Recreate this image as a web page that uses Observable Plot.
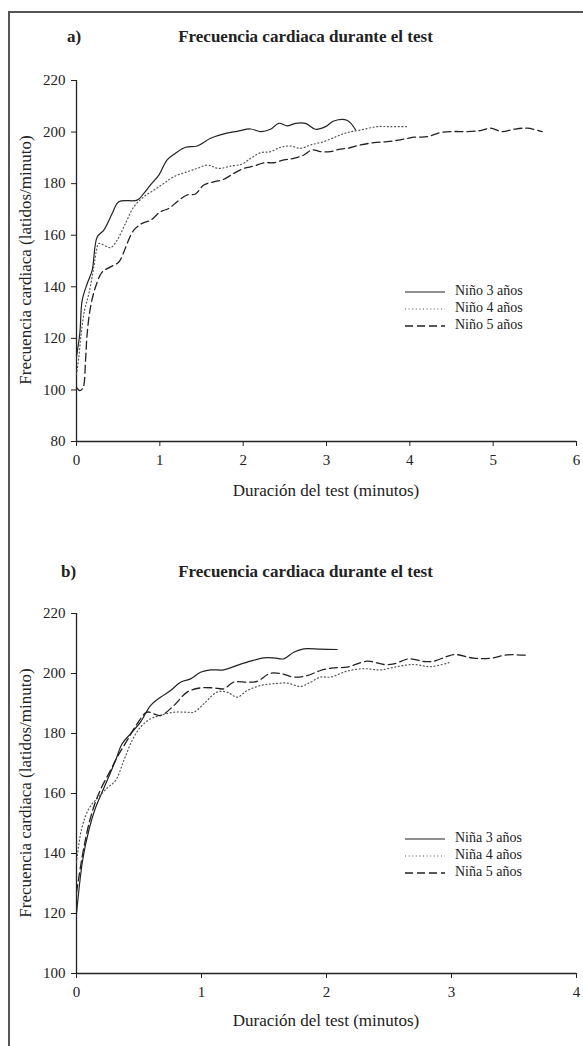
<!DOCTYPE html>
<html>
<head>
<meta charset="utf-8">
<script src="https://cdn.jsdelivr.net/npm/d3@7"></script>
<script src="https://cdn.jsdelivr.net/npm/@observablehq/plot@0.6"></script>
<style>
  body { margin:0; background:#fff; font-family:"Liberation Serif","DejaVu Serif",serif; color:#222; }
  #page { position:relative; width:583px; height:1046px; overflow:hidden; }
  #frame { position:absolute; left:8px; top:11px; width:700px; height:1200px; border:2px solid #555; box-sizing:border-box; }
  .abs { position:absolute; white-space:nowrap; }
  .title { font-weight:bold; font-size:17px; }
  .lbl { font-size:17px; }
  .leg { font-size:14px; }
</style>
</head>
<body>
<div id="page">
  <div id="frame"></div>
</div>
<script>
// ---- Panel a: niños ----
const panelATitle = "Frecuencia cardiaca durante el test";
const panelALetter = "a)";
const ninoLabels = ["Niño 3 años", "Niño 4 años", "Niño 5 años"];
const xTicksA = [0, 1, 2, 3, 4, 5, 6];
const yTicksA = [80, 100, 120, 140, 160, 180, 200, 220];

const nino3 = [[0,113],[0.04,122],[0.068,134.7],[0.128,141.2],[0.188,146.4],[0.248,159.3],[0.328,162],[0.428,168.4],[0.508,173],[0.728,173.6],[0.808,176.2],[0.888,179.5],[0.988,183.3],[1.088,189.2],[1.188,191.8],[1.308,194.1],[1.448,194.6],[1.608,197.6],[1.768,199.3],[1.928,200.3],[2.088,201.2],[2.208,200.2],[2.328,201.1],[2.428,203.4],[2.528,202.4],[2.628,203.4],[2.748,203.4],[2.868,201.1],[2.988,202.1],[3.088,204.3],[3.25,204.5],[3.35,200.8]];
const nino4 = [[0,106],[0.028,112.7],[0.056,121.8],[0.096,130.8],[0.148,137.3],[0.208,147.7],[0.24,154.2],[0.268,156.8],[0.408,155.2],[0.488,158.1],[0.588,164.6],[0.688,171],[0.808,174.9],[0.928,177.5],[1.048,180.1],[1.168,182.7],[1.328,184.6],[1.448,185.9],[1.568,187.2],[1.708,185.9],[1.848,186.8],[1.988,187.6],[2.088,189.8],[2.208,192],[2.328,192.4],[2.448,194.1],[2.568,194.6],[2.688,193.7],[2.808,195],[2.968,196.3],[3.128,198.4],[3.248,199.8],[3.408,200.8],[3.608,202.1],[3.768,202.1],[3.988,202.1]];
const nino5 = [[0,101],[0.04,99.7],[0.08,101],[0.108,111.4],[0.128,121.8],[0.168,132.1],[0.228,139.9],[0.308,145.7],[0.408,147.7],[0.508,149.6],[0.568,153.5],[0.608,156.8],[0.688,162],[0.788,164.6],[0.888,165.8],[1.008,169.1],[1.108,170.4],[1.208,173],[1.328,175.6],[1.428,176],[1.528,179.5],[1.648,180.7],[1.768,181.7],[1.888,184],[2.008,185.9],[2.128,186.8],[2.248,188.1],[2.368,188.1],[2.488,189.2],[2.608,189.8],[2.728,191.1],[2.828,193.1],[2.928,192.4],[3.048,192.4],[3.148,193.3],[3.248,193.7],[3.408,195],[3.568,195.9],[3.728,196.3],[3.888,197],[4.048,198],[4.208,198.2],[4.368,199.8],[4.528,200.2],[4.688,200.2],[4.848,200.6],[4.968,201.5],[5.108,200.2],[5.248,201.1],[5.408,201.5],[5.588,200.2]];

// ---- Panel b: niñas ----
const panelBTitle = "Frecuencia cardiaca durante el test";
const panelBLetter = "b)";
const ninaLabels = ["Niña 3 años", "Niña 4 años", "Niña 5 años"];
const xTicksB = [0, 1, 2, 3, 4];
const yTicksB = [100, 120, 140, 160, 180, 200, 220];

const nina3 = [[0,120],[0.05,138],[0.1,148],[0.15,155],[0.2,160],[0.245,164.3],[0.312,171],[0.365,176.6],[0.432,179.9],[0.512,183.8],[0.592,189.3],[0.672,192.1],[0.752,194.3],[0.832,197.1],[0.912,198.2],[0.992,200.4],[1.072,201.2],[1.178,201.2],[1.285,202.7],[1.392,204.1],[1.498,205.2],[1.578,205.2],[1.658,204.9],[1.738,207.1],[1.818,208.2],[1.952,208.1],[2.085,208]];
const nina4 = [[0,137],[0.04,148],[0.1,155],[0.18,159],[0.25,162],[0.312,164.3],[0.379,171],[0.445,177.7],[0.512,182.1],[0.592,184.9],[0.672,186],[0.779,187.1],[0.885,187.1],[0.939,187.1],[1.019,189.9],[1.125,193.8],[1.205,193.8],[1.285,192.1],[1.365,194.3],[1.472,196],[1.578,196.6],[1.685,196.8],[1.792,195.7],[1.872,197.1],[1.952,198.8],[2.032,198.8],[2.165,200.8],[2.299,201.6],[2.432,201.2],[2.565,202.3],[2.699,203],[2.832,202.3],[2.979,203.6]];
const nina5 = [[0,127],[0.05,140],[0.1,150],[0.15,157],[0.2,162],[0.272,167.7],[0.325,172.1],[0.405,177.7],[0.485,183.2],[0.565,187.1],[0.672,186],[0.779,189.3],[0.885,193.8],[0.992,195.2],[1.099,195.2],[1.178,194.9],[1.258,197.1],[1.365,197.1],[1.445,197.4],[1.552,200.1],[1.645,199.9],[1.738,198.8],[1.845,199.3],[1.952,201],[2.059,201.9],[2.165,202.1],[2.325,204.1],[2.459,203],[2.539,203.2],[2.659,204.9],[2.779,204],[2.859,204.1],[2.965,205.7],[3.032,206.3],[3.179,205.1],[3.312,205.1],[3.445,206.2],[3.592,206.1]];

const xLabel = "Duración del test (minutos)";
const yLabel = "Frecuencia cardiaca (latidos/minuto)";

const styles = [
  {stroke:"#222", strokeWidth:1.2, dash:null},
  {stroke:"#555", strokeWidth:1.2, dash:"1,2.6"},
  {stroke:"#222", strokeWidth:1.3, dash:"8,4"}
];

const page = document.getElementById("page");
function addText(txt, cls, left, top, extra) {
  const d = document.createElement("div");
  d.className = "abs " + cls;
  d.textContent = txt;
  d.style.left = left + "px";
  d.style.top = top + "px";
  if (extra) Object.assign(d.style, extra);
  page.appendChild(d);
  return d;
}

function panel(cfg) {
  const series = cfg.series;
  const marks = [
    Plot.ruleX([0], {y1: cfg.yDomain[0], y2: cfg.yDomain[1], stroke:"#222", strokeWidth:1.3}),
    Plot.ruleY([cfg.yDomain[0]], {stroke:"#222", strokeWidth:1.3}),
    Plot.axisX({ticks: cfg.xTicks, tickSize:5, tickPadding:8, fontSize:15, tickFormat: d => String(d), stroke:"#222"}),
    Plot.axisY({ticks: cfg.yTicks, tickSize:5, tickPadding:6, fontSize:15, tickFormat: d => String(d), stroke:"#222"})
  ];
  series.forEach((s, i) => {
    const st = styles[i];
    marks.push(Plot.line(s, {x: d => d[0], y: d => d[1], curve:"catmull-rom", stroke: st.stroke, strokeWidth: st.strokeWidth, strokeDasharray: st.dash || undefined}));
  });
  const svg = Plot.plot({
    width: 583,
    height: cfg.height,
    marginLeft: 76,
    marginRight: 7,
    marginTop: 20,
    marginBottom: cfg.marginBottom,
    style: {fontFamily: "Liberation Serif, serif", fontSize: "15px", color:"#222", background:"transparent", overflow:"visible"},
    x: {domain: cfg.xDomain, label: null},
    y: {domain: cfg.yDomain, label: null},
    marks
  });
  const wrap = document.createElement("div");
  wrap.className = "abs";
  wrap.style.left = "0px";
  wrap.style.top = cfg.top + "px";
  wrap.appendChild(svg);
  page.appendChild(wrap);

  // titles
  addText(cfg.letter, "title", cfg.letterX, cfg.titleY);
  addText(cfg.title, "title", 0, cfg.titleY, {width:"583px", left:"0px", textAlign:"center", transform:"translateX(14px)"});
  // axis labels
  addText(xLabel, "lbl", 76, cfg.xLabelY, {width:"500px", textAlign:"center"});
  const yl = addText(yLabel, "lbl", 0, 0, {width:"400px", textAlign:"center", transformOrigin:"center center"});
  yl.style.left = (cfg.yLabelX - 200) + "px";
  yl.style.top = (cfg.yLabelCY - 10) + "px";
  yl.style.transform = "rotate(-90deg)";

  // legend
  cfg.labels.forEach((lab, i) => {
    const st = styles[i];
    const y = cfg.legendY + i * 17;
    const ns = "http://www.w3.org/2000/svg";
    const s = document.createElementNS(ns, "svg");
    s.setAttribute("width", 42); s.setAttribute("height", 6);
    s.style.position = "absolute"; s.style.left = "404px"; s.style.top = (y - 3) + "px";
    const ln = document.createElementNS(ns, "line");
    ln.setAttribute("x1", 1); ln.setAttribute("x2", 41); ln.setAttribute("y1", 3); ln.setAttribute("y2", 3);
    ln.setAttribute("stroke", st.stroke); ln.setAttribute("stroke-width", st.strokeWidth);
    if (st.dash) ln.setAttribute("stroke-dasharray", st.dash);
    s.appendChild(ln);
    page.appendChild(s);
    addText(lab, "leg", 455, y - 9);
  });
}

panel({
  series: [nino3, nino4, nino5], labels: ninoLabels,
  xDomain: [0, 6], yDomain: [80, 220], xTicks: xTicksA, yTicks: yTicksA,
  top: 60, height: 441, marginBottom: 60,
  letter: panelALetter, letterX: 67, title: panelATitle, titleY: 27,
  xLabelY: 481, yLabelX: 26, yLabelCY: 260, legendY: 292
});

panel({
  series: [nina3, nina4, nina5], labels: ninaLabels,
  xDomain: [0, 4], yDomain: [100, 220], xTicks: xTicksB, yTicks: yTicksB,
  top: 593, height: 440, marginBottom: 60,
  letter: panelBLetter, letterX: 61, title: panelBTitle, titleY: 562,
  xLabelY: 1011, yLabelX: 26, yLabelCY: 793, legendY: 839
});
</script>
</body>
</html>
